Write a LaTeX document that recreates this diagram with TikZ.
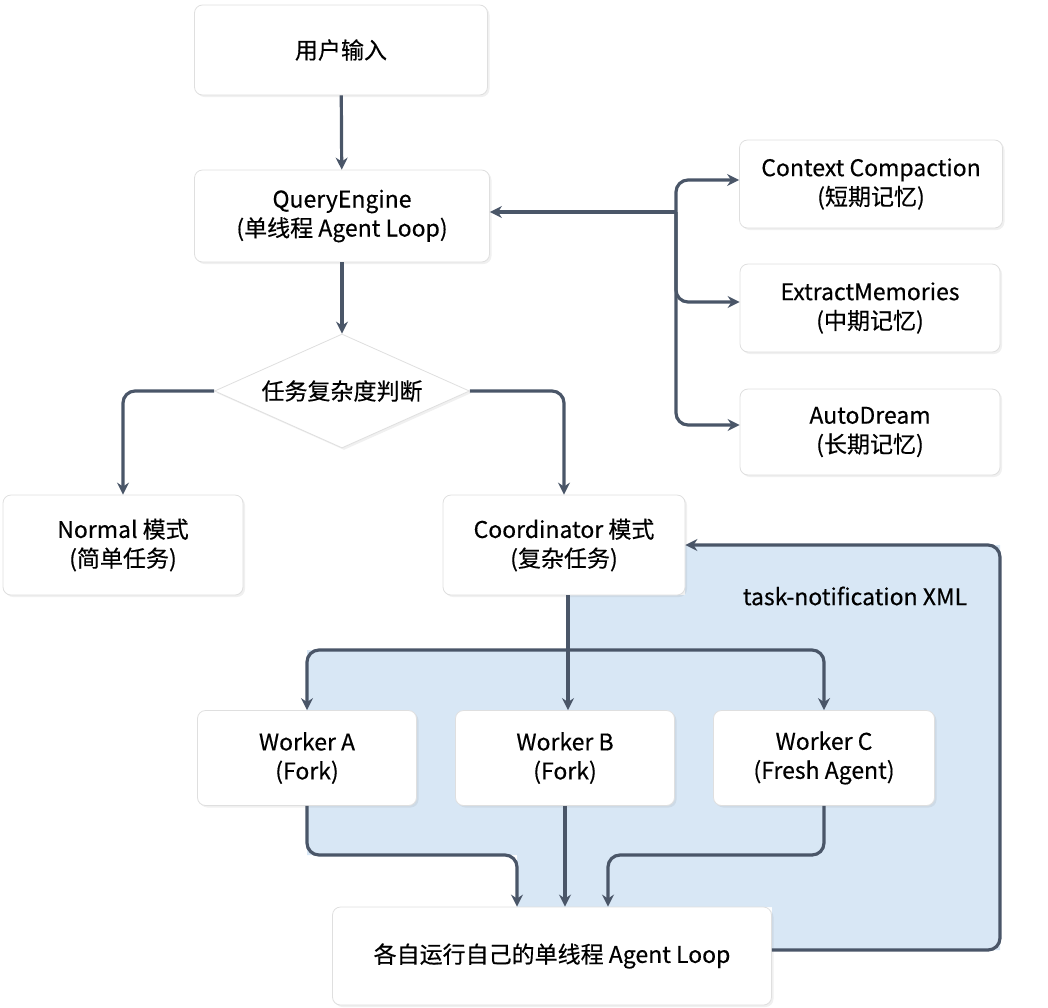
\documentclass[tikz,border=0pt]{standalone}
\usepackage{fontspec}
\setmainfont{Noto Sans CJK SC}[FakeBold=0.4]
\usetikzlibrary{arrows.meta,shapes.geometric,shadows}

\begin{document}
\begin{tikzpicture}
	[
		x=0.5pt, y=-0.5pt,
		font=\fontsize{11.5}{14.5}\selectfont,
		align=center,
		box/.style={draw=gray!25, fill=white, rounded corners=4pt,
			drop shadow={opacity=0.12, shadow xshift=1pt, shadow yshift=-1pt},
			inner sep=0pt},
		arrow/.style={-{Stealth[length=6pt,width=6pt]}, line width=1.6pt, draw=arrowc, rounded corners=6pt},
		link/.style={line width=1.6pt, draw=arrowc, rounded corners=6pt}
	]
	\definecolor{arrowc}{HTML}{4A5668}
	\definecolor{loopc}{HTML}{D8E7F5}
	\useasboundingbox (0,0) rectangle (1048,1007);

	% feedback area
	\fill[loopc] (307,650) -- (568,650) -- (568,595) -- (685,595) -- (685,545)
		-- (1000,545) -- (1000,950) -- (772,950) -- (772,907) -- (517,907)
		-- (517,855) -- (307,855) -- cycle;

	% nodes
	\node[box, minimum width=146.5pt, minimum height=45pt] (input) at (341,50) {用户输入};
	\node[box, minimum width=147.5pt, minimum height=46pt] (engine) at (342,216) {QueryEngine\\(单线程 Agent Loop)};
	\node[diamond, aspect=2.3, fill=white, draw=gray!25, inner sep=1pt,
		minimum width=127.5pt, minimum height=57pt,
		drop shadow={opacity=0.12, shadow xshift=1pt, shadow yshift=-1pt}] (judge) at (342,391) {任务复杂度判断};
	\node[box, minimum width=131.5pt, minimum height=44pt] (ctx) at (871,184) {Context Compaction\\(短期记忆)};
	\node[box, minimum width=130pt, minimum height=44pt] (mid) at (870,308) {ExtractMemories\\(中期记忆)};
	\node[box, minimum width=130pt, minimum height=43pt] (dream) at (870,432) {AutoDream\\(长期记忆)};
	\node[box, minimum width=120pt, minimum height=50pt] (normal) at (123,545) {Normal 模式\\(简单任务)};
	\node[box, minimum width=121pt, minimum height=50pt] (coord) at (564,545) {Coordinator 模式\\(复杂任务)};
	\node[box, minimum width=109.5pt, minimum height=47.5pt] (wa) at (307,758) {Worker A\\(Fork)};
	\node[box, minimum width=109.5pt, minimum height=47.5pt] (wb) at (565,758) {Worker B\\(Fork)};
	\node[box, minimum width=110.5pt, minimum height=47.5pt] (wc) at (824,758) {Worker C\\(Fresh Agent)};
	\node[box, minimum width=219.5pt, minimum height=49pt] (run) at (552,956) {各自运行自己的单线程 Agent Loop};
	\node (xml) at (855,596) {task-notification XML};

	% main flow
	\draw[arrow] (input) -- (engine);
	\draw[arrow] (engine) -- (judge);
	\draw[arrow] (judge.west) -| (normal.north);
	\draw[arrow] (judge.east) -| (coord.north);

	% memories
	\coordinate (fork) at (676,212);
	\draw[arrow] (fork) -- (engine.east |- fork);
	\draw[arrow] (fork) |- (ctx.west |- 0,180);
	\draw[arrow] (fork) |- (mid.west |- 0,302);
	\draw[arrow] (fork) |- (dream.west |- 0,425);

	% workers
	\coordinate (split) at (568,650);
	\draw[link] (coord.south -| split) -- (split);
	\draw[arrow] (split) -| (wa.north);
	\draw[arrow] (split) -| (wc.north);
	\draw[arrow] (split) -- (wb.north -| split);
	\draw[arrow] (wa.south) |- (517,855) -- (run.north -| 517,0);
	\draw[arrow] (wb.south) -- (run.north -| wb.south);
	\draw[arrow] (wc.south) |- (608,855) -- (run.north -| 608,0);

	% feedback
	\draw[arrow] (run.east |- 0,950) -| (1000,545) -- (coord.east |- 0,545);
\end{tikzpicture}
\end{document}
